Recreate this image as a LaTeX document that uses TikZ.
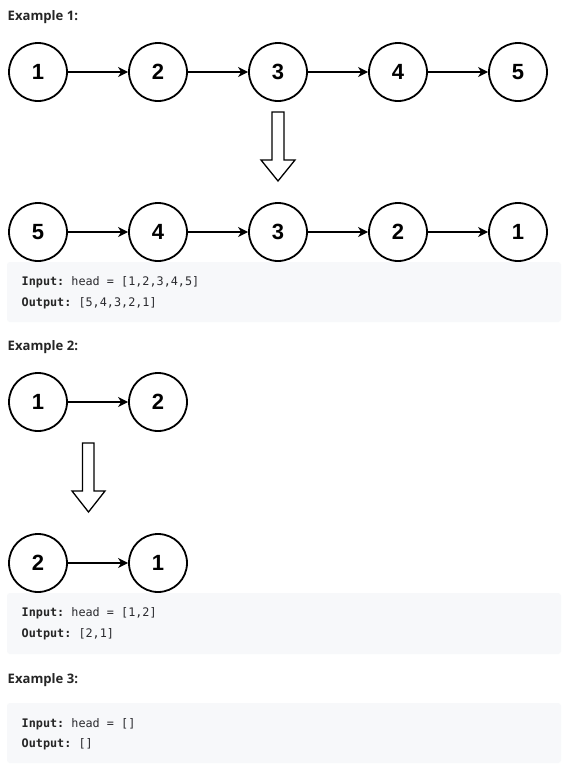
\documentclass[tikz,border=0pt]{standalone}
\usepackage{fontspec}
\setmainfont{Open Sans}
\setsansfont{Liberation Sans}
\setmonofont{DejaVu Sans Mono}
\usetikzlibrary{arrows.meta}
\definecolor{codebg}{HTML}{F7F8FA}
\definecolor{ink}{HTML}{262626}
\definecolor{codeink}{HTML}{2A2A2E}
\tikzset{
  listnode/.style={circle, draw=black, line width=1.8pt, minimum size=58pt, inner sep=0pt,
    font=\sffamily\bfseries\fontsize{22}{22}\selectfont},
  link/.style={line width=1.5pt, -{Stealth[length=10pt,width=10pt,inset=3pt]}},
  heading/.style={anchor=base west, inner sep=0pt, text=ink,
    font=\rmfamily\bfseries\fontsize{13.1}{15}\selectfont},
  codebox/.style={fill=codebg, draw=none, rounded corners=3pt},
  codeline/.style={anchor=base west, inner sep=0pt, text=codeink,
    font=\ttfamily\fontsize{11.8}{14}\selectfont},
  bigarrow/.style={draw=black, line width=1.3pt, fill=white, line join=miter}
}
\newcommand{\key}[1]{\textbf{\color{ink}#1}}
\begin{document}
\begin{tikzpicture}[x=1pt,y=-1pt]
\useasboundingbox (0,0) rectangle (576,764);
\fill[white] (0,0) rectangle (576,764);

% ---- Example 1 ----
\node[heading] (h1) at (7.5,20.7) {Example 1:};
\foreach \n/\x in {1/38,2/158,3/278,4/398,5/518}
  \node[listnode] (a\n) at (\x,72) {\n};
\foreach \p/\q in {1/2,2/3,3/4,4/5} \draw[link] (a\p) -- (a\q);

\draw[bigarrow] (272,112) -- (284,112) -- (284,160) -- (295,160) -- (278,181)
  -- (261,160) -- (272,160) -- cycle;

\foreach \n/\x in {5/38,4/158,3/278,2/398,1/518}
  \node[listnode] (b\n) at (\x,232) {\n};
\foreach \p/\q in {5/4,4/3,3/2,2/1} \draw[link] (b\p) -- (b\q);

\fill[codebox] (7,262) rectangle (561,322);
\node[codeline] (in1) at (21.5,285.7) {\key{Input:} head = [1,2,3,4,5]};
\node[codeline] (out1) at (21.5,306.7) {\key{Output:} [5,4,3,2,1]};

% ---- Example 2 ----
\node[heading] (h2) at (7.5,350.7) {Example 2:};
\node[listnode] (c1) at (38,402) {1};
\node[listnode] (c2) at (158,402) {2};
\draw[link] (c1) -- (c2);

\draw[bigarrow] (82.5,443) -- (94,443) -- (94,491) -- (105,491) -- (88.5,512)
  -- (72,491) -- (82.5,491) -- cycle;

\node[listnode] (d2) at (38,563) {2};
\node[listnode] (d1) at (158,563) {1};
\draw[link] (d2) -- (d1);

\fill[codebox] (7,593) rectangle (561,654);
\node[codeline] (in2) at (21.5,616.7) {\key{Input:} head = [1,2]};
\node[codeline] (out2) at (21.5,637.3) {\key{Output:} [2,1]};

% ---- Example 3 ----
\node[heading] (h3) at (7.5,683) {Example 3:};
\fill[codebox] (7,703) rectangle (561,763);
\node[codeline] (in3) at (21.5,727) {\key{Input:} head = []};
\node[codeline] (out3) at (21.5,747.5) {\key{Output:} []};
\end{tikzpicture}
\end{document}
